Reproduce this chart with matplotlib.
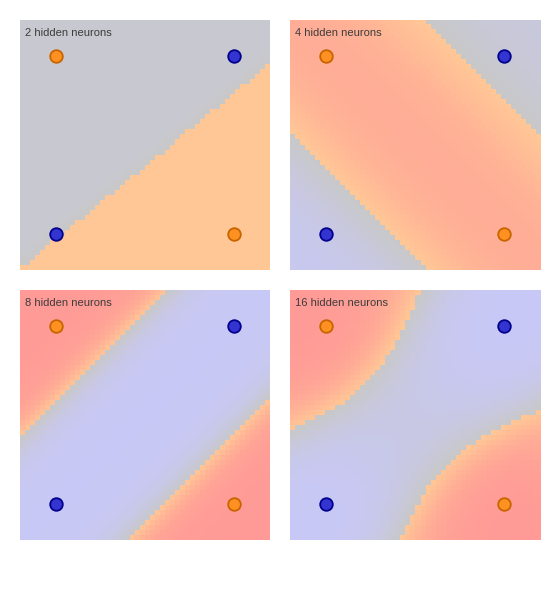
import numpy as np
import matplotlib
matplotlib.use("Agg")
import matplotlib.pyplot as plt
from matplotlib.colors import LinearSegmentedColormap

# ---- data ----
titles = ["2 hidden neurons", "4 hidden neurons", "8 hidden neurons", "16 hidden neurons"]
point_x = [0, 0, 1, 1]
point_y = [0, 1, 0, 1]
point_cls = [0, 1, 1, 0]          # 1 = orange class, 0 = blue class

# decision-field parameters (tanh hidden units -> sigmoid output) per panel
p1_w = [[16.3, -20.0], [16.3, -20.0]]
p1_b = [0.16, 0.16]
p1_v = [0.11, 0.11]
p1_c = -0.14

p2_w = [[2.0, 2.0], [2.0, 2.0]]
p2_b = [-0.516, -3.266]
p2_v = [2.03, -1.28]
p2_c = -1.75

p3_w = [[-4.0, 4.0], [-4.0, 4.0]]
p3_b = [2.36, -2.22]
p3_v = [-3.16, 3.16]
p3_c = 3.0

p4_w = [[-3.0, 3.0], [-3.0, 3.0], [2.0, 2.0], [2.0, 2.0]]
p4_b = [1.638, -1.638, -0.6, -3.0]
p4_v = [-2.373, 2.373, 1.346, -1.346]
p4_c = 0.783

panels = [(p1_w, p1_b, p1_v, p1_c), (p2_w, p2_b, p2_v, p2_c),
          (p3_w, p3_b, p3_v, p3_c), (p4_w, p4_b, p4_v, p4_c)]

lo, hi, n = -0.2, 1.2, 50

cmap = LinearSegmentedColormap("xor", {
    "red":   [(0.0, 200/255, 200/255), (0.5, 200/255, 1.0), (1.0, 1.0, 1.0)],
    "green": [(0.0, 200/255, 200/255), (0.5, 200/255, 200/255), (1.0, 150/255, 150/255)],
    "blue":  [(0.0, 250/255, 250/255), (0.5, 200/255, 150/255), (1.0, 150/255, 150/255)],
}, N=2048)

fig = plt.figure(figsize=(5.6, 6.0), dpi=100)
W_, H_ = 560, 600
boxes = [(20, 20), (290, 20), (20, 290), (290, 290)]

step = (hi - lo) / n
cs = lo + step * (np.arange(n) + 0.5)
X, Y = np.meshgrid(cs, cs)

for (w, b, v, c), (bx, by), title in zip(panels, boxes, titles):
    ax = fig.add_axes([bx / W_, 1 - (by + 250) / H_, 250 / W_, 250 / H_])
    w = np.array(w); b = np.array(b); v = np.array(v)
    hid = np.tanh(X[..., None] * w[:, 0] + Y[..., None] * w[:, 1] + b)
    z = hid @ v + c
    p = 1 / (1 + np.exp(-z))
    ax.imshow(p, origin="lower", extent=(lo, hi, lo, hi), cmap=cmap,
              vmin=0, vmax=1, interpolation="nearest", aspect="auto")
    for px, py, pc in zip(point_x, point_y, point_cls):
        if pc == 1:
            fc, ec = "#ff9122", "#c86400"
        else:
            fc, ec = "#3434d0", "#00008c"
        ax.scatter([px], [py], s=82, c=fc, edgecolors=ec, linewidths=1.3, zorder=3)
    ax.set_xlim(lo, hi)
    ax.set_ylim(lo, hi)
    ax.axis("off")
    ax.text(0.02, 0.968, title, transform=ax.transAxes, ha="left", va="top",
            fontsize=8, family="Liberation Sans", color="#3c3c3c")

fig.savefig("out.png", dpi=100, facecolor="white")
